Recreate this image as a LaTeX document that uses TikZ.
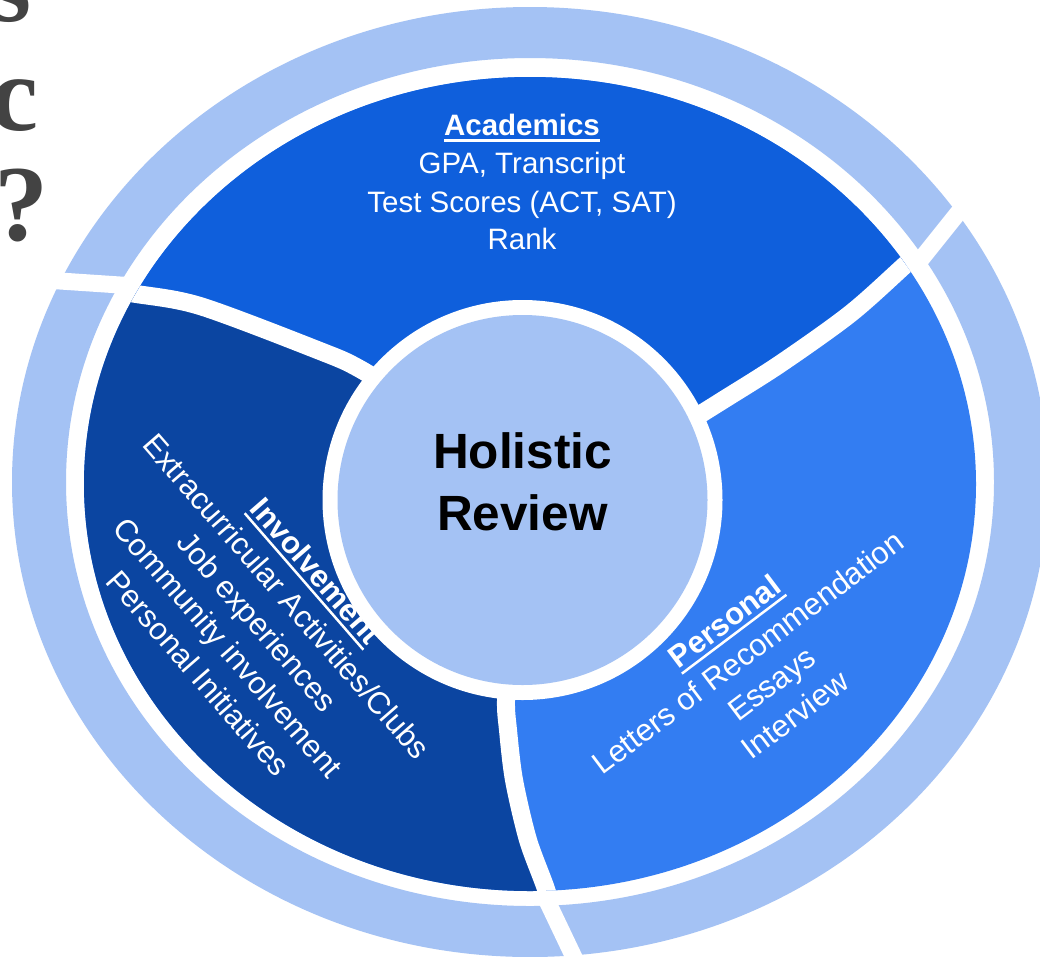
\documentclass[tikz,border=0pt]{standalone}
\usepackage{fontspec}
\newfontfamily\rob{Liberation Sans}
\newfontfamily\ttl{Liberation Serif}
\definecolor{lightb}{HTML}{A4C2F4}
\definecolor{acad}{HTML}{0F5FDC}
\definecolor{invol}{HTML}{0B45A1}
\definecolor{pers}{HTML}{337DF2}
\definecolor{titlegray}{HTML}{434343}
\newcommand\myul[1]{\setbox0\hbox{#1}\rlap{\rule[-6.5pt]{\wd0}{2.5pt}}\box0}
\begin{document}
\begin{tikzpicture}[x=1pt,y=-1pt,
  gap/.style={draw=white, line width=18pt},
  ogap/.style={draw=white, line width=17pt},
  acadtxt/.style={text=white, font=\rob\fontsize{29.5}{35}\selectfont, anchor=base, inner sep=0pt},
  rottxt/.style={text=white, font=\rob\fontsize{31}{36}\selectfont, anchor=base, inner sep=0pt},
  titletxt/.style={text=titlegray, font=\ttl\bfseries\fontsize{108}{108}\selectfont, anchor=base east, inner sep=0pt}]
\useasboundingbox (0,0) rectangle (1040,956);
\clip (0,0) rectangle (1040,956);
\fill[white] (0,0) rectangle (1040,956);

% title fragments
\node[titletxt] (ts) at (32,21) {s};
\node[titletxt] (tc) at (39,130) {c};
\node[titletxt] (tq) at (49,240) {?};

% outer ring
\fill[lightb, even odd rule] (530,482) ellipse [x radius=518, y radius=475]
                             (530,482) ellipse [x radius=464, y radius=424];
\draw[ogap] (0,277) -- (135,286);
\draw[ogap] (990,173) -- (910,273);
\draw[ogap] (540,886) -- (580,970);

% middle ring sectors
\begin{scope}
\clip (530,484) ellipse [x radius=446, y radius=407];
\fill[pers] (0,0) rectangle (1040,956);
\fill[acad] plot[smooth] coordinates {(430,412) (360,369) (320,351) (200,306) (130,293) (40,279)}
   -- (0,279) -- (0,0) -- (1040,0) -- (1040,130)
   -- plot[smooth] coordinates {(960,214) (905,265) (850,314) (780,364) (720,402) (640,452)} -- cycle;
\fill[invol] plot[smooth] coordinates {(430,412) (360,369) (320,351) (200,306) (130,293) (40,279)}
   -- (0,279) -- (0,956) -- (560,956)
   -- plot[smooth] coordinates {(560,940) (547,892) (528,840) (514,780) (508,730) (506,700) (510,640)} -- cycle;
\draw[gap] plot[smooth] coordinates {(430,412) (360,369) (320,351) (200,306) (130,293) (40,279)};
\draw[gap] plot[smooth] coordinates {(640,452) (720,402) (780,364) (850,314) (905,265) (960,214)};
\draw[gap] plot[smooth] coordinates {(510,640) (506,700) (508,730) (514,780) (528,840) (547,892) (560,940)};
\end{scope}

% centre
\fill[white] (522.5,500) circle [radius=200];
\fill[lightb] (522.5,500) circle [radius=185];
\node[text=black, font=\rob\bfseries\fontsize{49.5}{60}\selectfont, anchor=base, inner sep=0pt] (hol) at (522.5,468) {Holistic};
\node[text=black, font=\rob\bfseries\fontsize{49.5}{60}\selectfont, anchor=base, inner sep=0pt] (rev) at (522.5,530) {Review};

% Academics
\node[acadtxt] (acadh) at (522,135) {\myul{\bfseries Academics}};
\node[acadtxt] (acad1) at (522,173) {GPA, Transcript};
\node[acadtxt] (acad2) at (522,212) {Test Scores (ACT, SAT)};
\node[acadtxt] (acad3) at (522,249) {Rank};

% Involvement
\begin{scope}[shift={(308,578)}, rotate=-49]
\node[rottxt, rotate=-49] (inv0) at (0,0) {\myul{\bfseries Involvement}};
\node[rottxt, rotate=-49] (inv1) at (0,39) {Extracurricular Activities/Clubs};
\node[rottxt, rotate=-49] (inv2) at (0,78) {Job experiences};
\node[rottxt, rotate=-49] (inv3) at (0,117) {Community involvement};
\node[rottxt, rotate=-49] (inv4) at (0,156) {Personal Initiatives};
\end{scope}

% Personal
\begin{scope}[shift={(731,630)}, rotate=37]
\node[rottxt, rotate=37] (per0) at (0,0) {\myul{\bfseries Personal}};
\node[rottxt, rotate=37] (per1) at (0,39) {Letters of Recommendation};
\node[rottxt, rotate=37] (per2) at (0,78) {Essays};
\node[rottxt, rotate=37] (per3) at (0,117) {Interview};
\end{scope}
\end{tikzpicture}
\end{document}
